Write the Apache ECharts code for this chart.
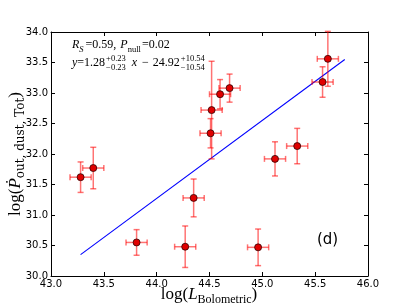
<!DOCTYPE html>
<html><head><meta charset="utf-8">
<script src="https://cdn.jsdelivr.net/npm/echarts@6/dist/echarts.min.js"></script>
<style>html,body{margin:0;padding:0;background:#fff}#c{width:409px;height:307px}</style>
</head><body><div id="c"></div>
<script>
var xVals = [43.28, 43.40, 43.81, 44.27, 44.35, 44.51, 44.52, 44.60, 44.69, 44.96, 45.12, 45.33, 45.57, 45.62];
var yVals = [31.62, 31.77, 30.55, 30.48, 31.28, 32.34, 32.72, 32.98, 33.08, 30.47, 31.92, 32.13, 33.18, 33.56];
var xErr  = [0.10, 0.10, 0.10, 0.10, 0.10, 0.10, 0.10, 0.10, 0.10, 0.10, 0.10, 0.10, 0.10, 0.10];
var yErr  = [0.25, 0.34, 0.21, 0.34, 0.31, 0.24, 0.80, 0.24, 0.23, 0.30, 0.28, 0.29, 0.25, 0.45];
var fitX = [43.28, 45.78];
var fitY = [30.35, 33.55];
var xTicks = [43.0, 43.5, 44.0, 44.5, 45.0, 45.5, 46.0];
var yTicks = [30.0, 30.5, 31.0, 31.5, 32.0, 32.5, 33.0, 33.5, 34.0];

var pts = xVals.map(function(x,i){return [x, yVals[i]];});
var errData = xVals.map(function(x,i){return [x, yVals[i], xErr[i], yErr[i]];});
var fitData = fitX.map(function(x,i){return [x, fitY[i]];});

var SERIF = 'Liberation Serif';
var mctx = document.createElement('canvas').getContext('2d');
function tw(t, size, italic){ mctx.font = (italic?'italic ':'') + size + 'px "' + SERIF + '"'; return mctx.measureText(t).width; }
function layout(x0, base, pieces){
  var out = [], x = x0;
  pieces.forEach(function(p){
    if (p.gap) { x += p.gap; return; }
    if (p.sup !== undefined) {
      out.push({type:'text', x:x, y:base-5.5, style:{text:p.sup, fontFamily:SERIF, fontSize:p.s, fill:'#000', verticalAlign:'bottom'}});
      out.push({type:'text', x:x, y:base+3.5, style:{text:p.sub, fontFamily:SERIF, fontSize:p.s, fill:'#000', verticalAlign:'bottom'}});
      x += Math.max(tw(p.sup,p.s,false), tw(p.sub,p.s,false));
      return;
    }
    out.push({type:'text', x:x, y:base + (p.dy||0), style:{text:p.t, fontFamily:SERIF, fontSize:p.s, fontStyle:p.it?'italic':'normal', fill:'#000', verticalAlign:'bottom'}});
    x += tw(p.t, p.s, p.it);
  });
  return out;
}
var M = 12, S = 8.5;
var line1 = layout(72, 51, [
  {t:'R', s:M, it:true}, {t:'S', s:S, it:true, dy:3}, {gap:2}, {t:'=0.59,', s:M}, {gap:4},
  {t:'P', s:M, it:true}, {t:'null', s:S, dy:3}, {gap:1}, {t:'=0.02', s:M}
]);
var line2 = layout(72, 69, [
  {t:'y', s:M, it:true}, {t:'=1.28', s:M}, {gap:1}, {sup:'+0.23', sub:'\u22120.23', s:S}, {gap:6},
  {t:'x', s:M, it:true}, {gap:5}, {t:'\u2212', s:M}, {gap:4}, {t:'24.92', s:M}, {gap:1},
  {sup:'+10.54', sub:'\u221210.54', s:S}
]);

var chart = echarts.init(document.getElementById('c'));
var tickFont = {fontFamily:'DejaVu Sans', fontSize:10, color:'#000'};
function ax(pos, show, min, max){
  return {type:'value', position:pos, min:min, max:max, interval:0.5,
    axisLine:{show:true, onZero:false, lineStyle:{color:'#000', width:1}},
    axisTick:{show:true, inside:true, length:4, lineStyle:{color:'#000'}},
    splitLine:{show:false},
    axisLabel: show ? Object.assign({show:true, margin:3, formatter:function(v){return v.toFixed(1);}}, tickFont) : {show:false}
  };
}
var labRich = {
  n:{fontFamily:SERIF, fontSize:17, lineHeight:19, verticalAlign:'top'},
  i:{fontFamily:SERIF, fontStyle:'italic', fontSize:17, lineHeight:19, verticalAlign:'top'},
  s:{fontFamily:SERIF, fontSize:12, lineHeight:19, verticalAlign:'bottom'},
  w:{fontFamily:'DejaVu Serif', fontSize:12, lineHeight:19, verticalAlign:'bottom'}
};
var option = {
  animation:false,
  grid:{left:51, right:41, top:32, bottom:31, containLabel:false},
  xAxis:[ax('bottom', true, 43, 46), ax('top', false, 43, 46)],
  yAxis:[ax('left', true, 30, 34), ax('right', false, 30, 34)],
  series:[
    {type:'line', data:fitData, showSymbol:false, lineStyle:{color:'#0000ff', width:1.1}, z:2},
    {type:'custom', data:errData, z:3,
      renderItem:function(params, api){
        var x=api.value(0), y=api.value(1), ex=api.value(2), ey=api.value(3);
        var l=api.coord([x-ex,y]), r=api.coord([x+ex,y]), t=api.coord([x,y+ey]), b=api.coord([x,y-ey]);
        var st={stroke:'rgba(255,0,0,0.55)', lineWidth:1.5};
        var c=3;
        return {type:'group', children:[
          {type:'line', shape:{x1:l[0],y1:l[1],x2:r[0],y2:r[1]}, style:st},
          {type:'line', shape:{x1:t[0],y1:t[1],x2:b[0],y2:b[1]}, style:st},
          {type:'line', shape:{x1:l[0],y1:l[1]-c,x2:l[0],y2:l[1]+c}, style:st},
          {type:'line', shape:{x1:r[0],y1:r[1]-c,x2:r[0],y2:r[1]+c}, style:st},
          {type:'line', shape:{x1:t[0]-c,y1:t[1],x2:t[0]+c,y2:t[1]}, style:st},
          {type:'line', shape:{x1:b[0]-c,y1:b[1],x2:b[0]+c,y2:b[1]}, style:st}
        ]};
      }},
    {type:'scatter', data:pts, symbol:'circle', symbolSize:7, z:4,
      itemStyle:{color:'#e00000', borderColor:'#300000', borderWidth:0.8, opacity:1}}
  ],
  graphic: line1.concat(line2).concat([
    {type:'text', left:317, top:233, style:{text:'(d)', fontFamily:'DejaVu Sans', fontSize:15, fill:'#000'}},
    {type:'text', x:209, y:296, style:{
      text:'{n|log(}{i|L}{s|Bolometric}{n|)}', align:'center', verticalAlign:'middle', rich:labRich}},
    {type:'text', x:17, y:154, rotation:Math.PI/2, style:{
      text:'{n|log(}{i|\u1E56}{w|out, dust, Tot}{n|)}', align:'center', verticalAlign:'middle', rich:labRich}}
  ])
};
chart.setOption(option);
</script></body></html>
